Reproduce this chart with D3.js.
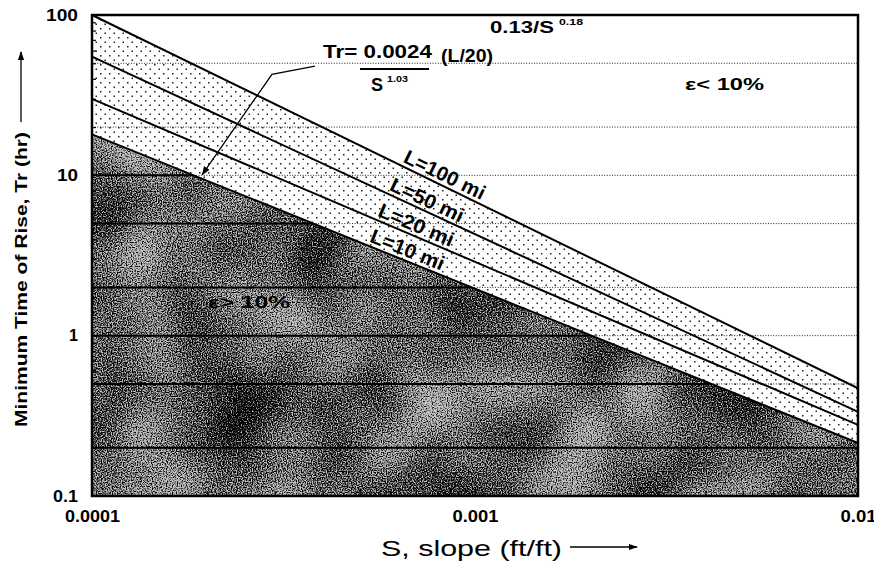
<!DOCTYPE html>
<html>
<head>
<meta charset="utf-8">
<script src="https://cdn.jsdelivr.net/npm/d3@7"></script>
<style>
body{margin:0;background:#fff}
svg{display:block}
text{font-family:"Liberation Sans",Arial,Helvetica,sans-serif;fill:#000}
</style>
</head>
<body>
<svg id="chart" width="874" height="564"></svg>
<script>
// slope range (ft/ft) and rise time at each end for every L line
var slopeEnds=[0.0001,0.01]
var lineNames=["L=100 mi","L=50 mi","L=20 mi","L=10 mi"]
var riseL100=[100,0.47]
var riseL50=[55,0.335]
var riseL20=[30,0.278]
var riseL10=[18,0.214]

var gridValues=[50,20,10,5,2,1,0.5,0.2]
var yTickValues=[0.1,1,10,100]
var yTickLabels=["0.1","1","10","100"]
var xTickValues=[0.0001,0.001,0.01]
var xTickLabels=["0.0001","0.001","0.01"]

// leader from the formula down to the L=10 line
var leaderS=[0.000382,0.000295,0.000194]
var leaderTr=[48,42.7,10.1]

var svg=d3.select("#chart")
var pL=92,pR=858,pT=15,pB=496

var x=d3.scaleLog().domain([0.0001,0.01]).range([pL,pR])
var y=d3.scaleLog().domain([0.1,100]).range([pB,pT])

var defs=svg.append("defs")

// stipple between the lines
var dots=defs.append("pattern").attr("id","dots")
    .attr("patternUnits","userSpaceOnUse").attr("width",9).attr("height",9)
dots.append("rect").attr("x",1).attr("y",1).attr("width",1.5).attr("height",1.5).attr("fill","#222")
dots.append("rect").attr("x",5.5).attr("y",5.5).attr("width",1.5).attr("height",1.5).attr("fill","#222")

// halftone-ish grain for the dark area
var f=defs.append("filter").attr("id","grain").attr("color-interpolation-filters","sRGB")
    .attr("filterUnits","userSpaceOnUse").attr("x",pL).attr("y",pT).attr("width",pR-pL).attr("height",pB-pT)
f.append("feTurbulence").attr("type","fractalNoise").attr("baseFrequency",0.8).attr("numOctaves",1).attr("seed",4).attr("result","fineRaw")
f.append("feColorMatrix").attr("in","fineRaw").attr("type","matrix")
    .attr("values","1 0 0 0 0  1 0 0 0 0  1 0 0 0 0  0 0 0 0 1").attr("result","fine")
f.append("feTurbulence").attr("type","fractalNoise").attr("baseFrequency",0.011).attr("numOctaves",2).attr("seed",11).attr("result","coarseRaw")
f.append("feColorMatrix").attr("in","coarseRaw").attr("type","matrix")
    .attr("values","1 0 0 0 0  1 0 0 0 0  1 0 0 0 0  0 0 0 0 1").attr("result","coarse")
f.append("feComposite").attr("in","fine").attr("in2","coarse").attr("operator","arithmetic")
    .attr("k1",0).attr("k2",1).attr("k3",0.35).attr("k4",-0.175).attr("result","mix")
f.append("feColorMatrix").attr("in","mix").attr("type","matrix")
    .attr("values","0 0 0 0 0  0 0 0 0 0  0 0 0 0 0  -4 0 0 0 2.5").attr("result","blk")
f.append("feComposite").attr("in","blk").attr("in2","SourceGraphic").attr("operator","in")

var line=d3.line().x(function(d){return x(d[0])}).y(function(d){return y(d[1])})

var pts=function(r){
  return [[slopeEnds[0],r[0]],[slopeEnds[1],r[1]]]
}
var darkPoly=pts(riseL10).concat([[slopeEnds[1],0.1],[slopeEnds[0],0.1]])
var bandPoly=pts(riseL100).concat(pts(riseL10).reverse())

defs.append("clipPath").attr("id","darkclip").append("path").attr("d",line(darkPoly)+"Z")

svg.append("path").attr("d",line(bandPoly)+"Z").attr("fill","url(#dots)")
svg.append("path").attr("d",line(darkPoly)+"Z").attr("fill","#c2c2c2")
svg.append("path").attr("d",line(darkPoly)+"Z").attr("fill","#fff").attr("filter","url(#grain)")

// grid: dotted in the light part, solid inside the dark part
var grid=svg.append("g")
grid.selectAll("line.dot").data(gridValues).enter().append("line")
    .attr("x1",pL).attr("x2",pR)
    .attr("y1",function(d){return y(d)}).attr("y2",function(d){return y(d)})
    .attr("stroke","#222").attr("stroke-width",1).attr("stroke-dasharray","1,1.6")
grid.append("g").attr("clip-path","url(#darkclip)").selectAll("line").data(gridValues).enter().append("line")
    .attr("x1",pL).attr("x2",pR)
    .attr("y1",function(d){return y(d)}).attr("y2",function(d){return y(d)})
    .attr("stroke","#000").attr("stroke-width",2)

// the four L lines
var allRise=[riseL100,riseL50,riseL20,riseL10]
svg.selectAll("path.lline").data(allRise).enter().append("path")
    .attr("d",function(d){return line(pts(d))})
    .attr("fill","none").attr("stroke","#000").attr("stroke-width",2)

// labels along the lines
var labelS=[0.00081,0.00073,0.000685,0.00065]
var labelLen=[88,79,80,78]
allRise.forEach(function(r,i){
  var x0=x(slopeEnds[0]),x1=x(slopeEnds[1]),y0=y(r[0]),y1=y(r[1])
  var ang=Math.atan2(y1-y0,x1-x0)*180/Math.PI
  var px=x(labelS[i])
  var py=y0+(px-x0)*(y1-y0)/(x1-x0)
  svg.append("text")
      .attr("transform","translate("+px+","+py+") rotate("+ang+")")
      .attr("y",-4).attr("text-anchor","middle")
      .attr("font-size",20).attr("font-weight","bold")
      .attr("textLength",labelLen[i]).attr("lengthAdjust","spacingAndGlyphs")
      .text(lineNames[i])
})

// minor ticks on the left and bottom, inside the frame
var yMinor=[]
;[0.1,1,10].forEach(function(b){for(var k=2;k<10;k++)yMinor.push(b*k)})
svg.append("g").attr("transform","translate("+pL+",0)")
    .call(d3.axisRight(y).tickValues(yMinor).tickSize(4).tickFormat(""))
    .call(function(g){g.select(".domain").remove();g.selectAll("line").attr("stroke-width",1.2)})
var xMinor=[]
;[0.0001,0.001].forEach(function(b){for(var k=2;k<10;k++)xMinor.push(b*k)})
svg.append("g").attr("transform","translate(0,"+pB+")")
    .call(d3.axisTop(x).tickValues(xMinor).tickSize(5).tickFormat(""))
    .call(function(g){g.select(".domain").remove();g.selectAll("line").attr("stroke-width",1.2)})
svg.append("g").attr("transform","translate(0,"+pB+")")
    .call(d3.axisTop(x).tickValues([0.001]).tickSize(8).tickFormat(""))
    .call(function(g){g.select(".domain").remove();g.selectAll("line").attr("stroke-width",1.4)})

// tick labels
var yLen={"0.1":25,"1":9,"10":21,"100":32}
var xLen={"0.0001":55,"0.001":46,"0.01":36}
svg.append("g").attr("transform","translate("+pL+",0)")
    .call(d3.axisLeft(y).tickValues(yTickValues).tickSize(0).tickPadding(14)
      .tickFormat(function(d,i){return yTickLabels[i]}))
    .call(function(g){g.select(".domain").remove()
      g.selectAll("text").attr("font-size",16).attr("font-weight","bold").attr("font-family",null)
        .attr("textLength",function(d,i){return yLen[yTickLabels[i]]}).attr("lengthAdjust","spacingAndGlyphs")})
svg.append("g").attr("transform","translate(0,"+pB+")")
    .call(d3.axisBottom(x).tickValues(xTickValues).tickSize(0).tickPadding(14)
      .tickFormat(function(d,i){return xTickLabels[i]}))
    .call(function(g){g.select(".domain").remove()
      g.selectAll("text").attr("font-size",16.5).attr("font-weight","bold").attr("font-family",null)
        .attr("textLength",function(d,i){return xLen[xTickLabels[i]]}).attr("lengthAdjust","spacingAndGlyphs")})

// frame
svg.append("rect").attr("x",pL).attr("y",pT).attr("width",pR-pL).attr("height",pB-pT)
    .attr("fill","none").attr("stroke","#000").attr("stroke-width",2.5)

// leader with arrow
defs.append("marker").attr("id","arr").attr("viewBox","0 0 10 10").attr("refX",9).attr("refY",5)
    .attr("markerWidth",7).attr("markerHeight",7).attr("orient","auto-start-reverse")
    .append("path").attr("d","M0,1.5L10,5L0,8.5Z").attr("fill","#000")
var leader=leaderS.map(function(s,i){return [s,leaderTr[i]]})
svg.append("path").attr("d",line(leader)).attr("fill","none").attr("stroke","#000")
    .attr("stroke-width",1.3).attr("marker-end","url(#arr)")

// formula
var fx=svg.append("g").attr("font-weight","bold")
fx.append("text").attr("x",323).attr("y",58).attr("font-size",19)
    .attr("textLength",109).attr("lengthAdjust","spacingAndGlyphs").text("Tr= 0.0024")
fx.append("text").attr("x",441).attr("y",62).attr("font-size",18)
    .attr("textLength",52).attr("lengthAdjust","spacingAndGlyphs").text("(L/20)")
fx.append("line").attr("x1",360).attr("x2",429).attr("y1",69).attr("y2",69).attr("stroke","#000").attr("stroke-width",2)
fx.append("text").attr("x",371).attr("y",91).attr("font-size",18).text("S")
fx.append("text").attr("x",387).attr("y",82).attr("font-size",9.5)
    .attr("textLength",21).attr("lengthAdjust","spacingAndGlyphs").text("1.03")

var g2=svg.append("g").attr("font-weight","bold")
g2.append("text").attr("x",490).attr("y",33).attr("font-size",16)
    .attr("textLength",64).attr("lengthAdjust","spacingAndGlyphs").text("0.13/S")
g2.append("text").attr("x",559).attr("y",25).attr("font-size",9)
    .attr("textLength",24).attr("lengthAdjust","spacingAndGlyphs").text("0.18")
g2.append("text").attr("x",685).attr("y",90).attr("font-size",17)
    .attr("textLength",79).attr("lengthAdjust","spacingAndGlyphs").text("\u03b5< 10%")
g2.append("text").attr("x",208).attr("y",308).attr("font-size",17)
    .attr("textLength",82).attr("lengthAdjust","spacingAndGlyphs").text("\u03b5> 10%")

// axis titles
svg.append("text").attr("transform","translate(27,427) rotate(-90)")
    .attr("font-size",17).attr("font-weight","bold")
    .attr("textLength",295).attr("lengthAdjust","spacingAndGlyphs")
    .text("Minimum Time of Rise, Tr (hr)")
svg.append("line").attr("x1",21).attr("x2",21).attr("y1",122).attr("y2",52)
    .attr("stroke","#000").attr("stroke-width",1.3).attr("marker-end","url(#arr)")

svg.append("text").attr("x",381).attr("y",556).attr("font-size",22)
    .attr("textLength",181).attr("lengthAdjust","spacingAndGlyphs").text("S, slope (ft/ft)")
svg.append("line").attr("x1",570).attr("x2",637).attr("y1",547).attr("y2",547)
    .attr("stroke","#000").attr("stroke-width",1.3).attr("marker-end","url(#arr)")
</script>
</body>
</html>
